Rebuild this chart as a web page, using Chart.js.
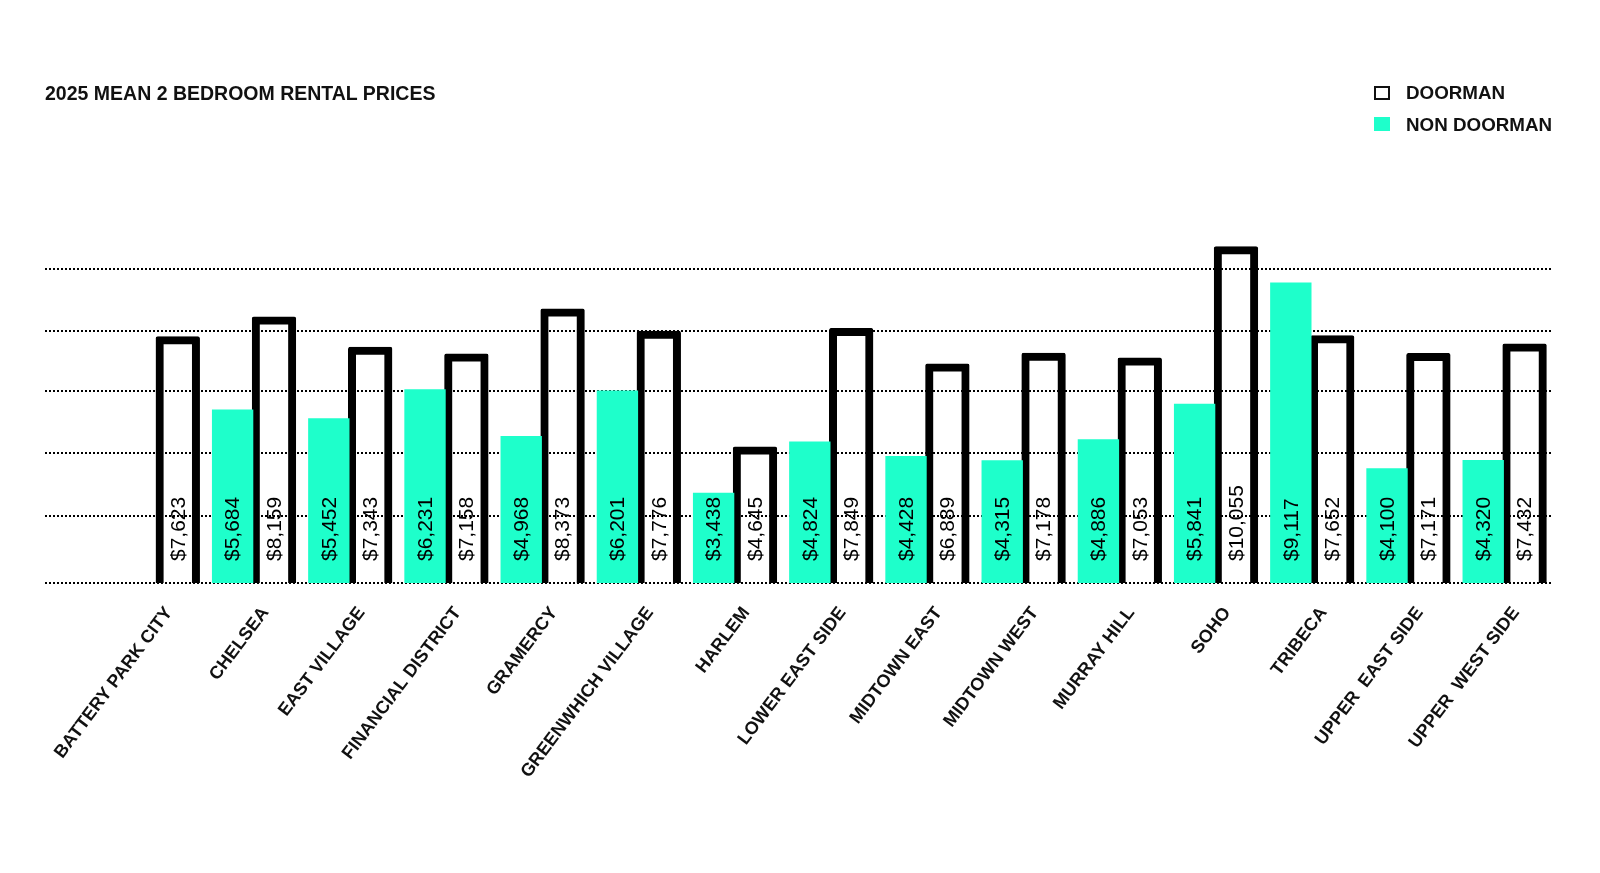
<!DOCTYPE html>
<html>
<head>
<meta charset="utf-8">
<script src="https://cdn.jsdelivr.net/npm/chart.js@4.4.1/dist/chart.umd.min.js"></script>
<style>
  html, body { margin: 0; padding: 0; background: #fff; }
  #wrap { position: relative; width: 1600px; height: 873px; }
  #title { position: absolute; left: 45px; top: 84px; font: bold 19.5px/19px "Liberation Sans", Arial, sans-serif; color: #111; white-space: nowrap; }
  .leg { position: absolute; left: 1374px; font: bold 18.8px/18px "Liberation Sans", Arial, sans-serif; color: #111; white-space: nowrap; }
  .leg .box { position: absolute; left: 0; width: 16px; height: 14px; box-sizing: border-box; }
  .leg .txt { position: absolute; left: 32px; top: 0; }
</style>
</head>
<body>
<div id="wrap">
  <canvas id="c"></canvas>
  <div id="title">2025 MEAN 2 BEDROOM RENTAL PRICES</div>
  <div class="leg" style="top:84px"><div class="box" style="top:2px;border:2.5px solid #111;background:#fff"></div><div class="txt">DOORMAN</div></div>
  <div class="leg" style="top:116px"><div class="box" style="top:1px;background:#1effcb"></div><div class="txt">NON DOORMAN</div></div>
</div>
<script>
const categories = ['BATTERY PARK CITY','CHELSEA','EAST VILLAGE','FINANCIAL DISTRICT','GRAMERCY','GREENWHICH VILLAGE','HARLEM','LOWER EAST SIDE','MIDTOWN EAST','MIDTOWN WEST','MURRAY HILL','SOHO','TRIBECA','UPPER  EAST SIDE','UPPER  WEST SIDE'];
const nonDoorman = [null,5684,5452,6231,4968,6201,3438,4824,4428,4315,4886,5841,9117,4100,4320];
const doorman = [7623,8159,7343,7158,8373,7776,4645,7849,6889,7178,7053,10055,7652,7171,7432];
const gridValues = [1000,2810,4510,6190,7815,9480];
const yMin = 1000;
const yMax = 10400;

const TEAL = '#1effcb';
const INK = '#111111';

const valueLabels = {
  id: 'valueLabels',
  afterDatasetsDraw(chart) {
    const ctx = chart.ctx;
    const bottom = chart.chartArea.bottom;
    ctx.save();
    ctx.font = '21px "Liberation Sans", Arial, sans-serif';
    ctx.fillStyle = '#000';
    ctx.textAlign = 'left';
    ctx.textBaseline = 'middle';
    chart.data.datasets.forEach((ds, di) => {
      const meta = chart.getDatasetMeta(di);
      meta.data.forEach((bar, i) => {
        const v = ds.data[i];
        if (v === null || v === undefined) return;
        ctx.save();
        ctx.translate(bar.x + 1, bottom - 22);
        ctx.rotate(-Math.PI / 2);
        ctx.fillText('$' + v.toLocaleString('en-US'), 0, 0);
        ctx.restore();
      });
    });
    ctx.restore();
  }
};

new Chart(document.getElementById('c'), {
  type: 'bar',
  data: {
    labels: categories,
    datasets: [
      { label: 'NON DOORMAN', data: nonDoorman, backgroundColor: TEAL, borderWidth: 0, inflateAmount: 0 },
      { label: 'DOORMAN', data: doorman, backgroundColor: 'rgba(255,255,255,0)', borderColor: '#000', borderWidth: 5, borderSkipped: false, borderRadius: 2, inflateAmount: 1.5 }
    ]
  },
  options: {
    responsive: true,
    maintainAspectRatio: false,
    animation: false,
    datasets: { bar: { categoryPercentage: 0.86, barPercentage: 1.0 } },
    layout: { padding: { left: 45, right: 48, top: 235, bottom: 0 } },
    plugins: { legend: { display: false }, title: { display: false }, tooltip: { enabled: false } },
    scales: {
      x: {
        grid: { display: false, drawTicks: false },
        border: { display: false },
        ticks: {
          autoSkip: false, maxRotation: 53, minRotation: 53, padding: 20, labelOffset: 12,
          color: INK, font: { family: '"Liberation Sans", Arial, sans-serif', size: 18, weight: 'bold' }
        },
        afterFit(scale) { scale.height = 290; }
      },
      y: {
        min: yMin, max: yMax,
        afterBuildTicks(scale) { scale.ticks = gridValues.map(v => ({ value: v })); },
        grid: { color: '#000', lineWidth: 2, drawTicks: true, tickLength: 64, tickColor: '#000', tickWidth: 2, tickBorderDash: [2, 2] },
        border: { display: false, dash: [2, 2] },
        ticks: { display: false },
        afterFit(scale) { scale.width = 64; }
      }
    }
  },
  plugins: [valueLabels]
});
</script>
</body>
</html>
